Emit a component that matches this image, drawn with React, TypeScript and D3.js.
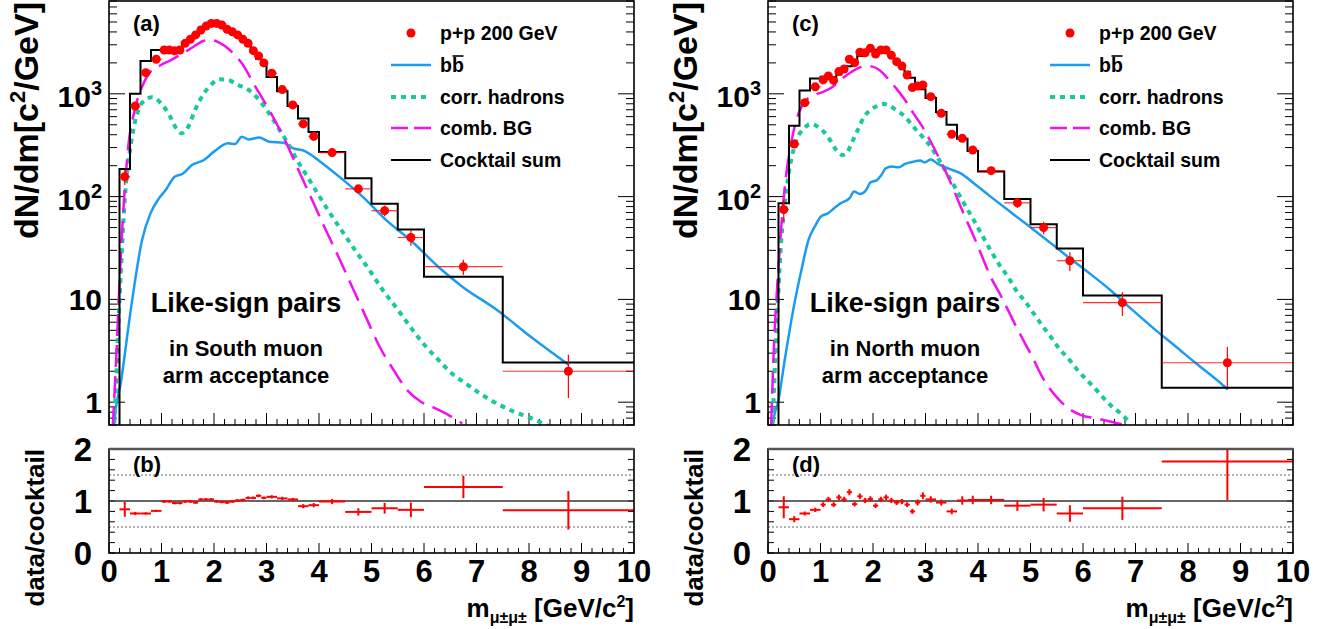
import React from "react";
import * as d3 from "d3";

const FONT = "'Liberation Sans', Arial, Helvetica, sans-serif";

// bin edges (GeV/c^2)
const binEdges = [0.2, 0.4, 0.6, 0.8, 1.0, 1.1, 1.2, 1.3, 1.4, 1.5, 1.6, 1.7, 1.8, 1.9, 2.0, 2.1, 2.2, 2.3, 2.4, 2.5, 2.6, 2.7, 2.8, 2.9, 3.0, 3.2, 3.4, 3.6, 3.8, 4.0, 4.5, 5.0, 5.5, 6.0, 7.5, 10.0];

// South (a)/(b)
const southCocktail = [186, 1000, 2090, 2670, 2700, 2700, 2720, 2760, 3140, 3440, 3860, 4150, 4500, 4780, 4870, 4700, 4350, 4040, 3710, 3330, 2950, 2560, 2200, 1920, 1460, 1060, 760, 575, 425, 272, 151, 85, 48, 16.6, 2.44];
const southData = [156, 762, 1606, 2170, 2670, 2670, 2620, 2670, 3100, 3390, 3740, 4180, 4560, 4840, 4840, 4670, 4240, 4010, 3740, 3390, 3100, 2630, 2340, 2000, 1590, 1100, 780, 510, 385, 268, 119, 73, 40, 20.8, 2.0];
const southRatio = [0.84, 0.76, 0.76, 0.81, 0.99, 0.99, 0.96, 0.96, 0.99, 0.99, 0.97, 1.03, 1.03, 1.03, 0.99, 0.98, 0.97, 0.99, 1.01, 1.02, 1.06, 1.06, 1.10, 1.06, 1.08, 1.05, 1.03, 0.90, 0.92, 0.99, 0.79, 0.86, 0.83, 1.27, 0.82];
const southRelErr = [0.17, 0.04, 0.03, 0.025, 0.025, 0.025, 0.025, 0.025, 0.025, 0.025, 0.025, 0.025, 0.025, 0.025, 0.025, 0.025, 0.025, 0.025, 0.025, 0.025, 0.025, 0.025, 0.025, 0.025, 0.03, 0.03, 0.03, 0.045, 0.045, 0.05, 0.09, 0.12, 0.17, 0.17, 0.45];

const southBbM = [0.08, 0.10, 0.23, 0.43, 0.63, 0.79, 0.95, 1.08, 1.25, 1.41, 1.58, 1.81, 2.00, 2.27, 2.40, 2.53, 2.66, 2.86, 3.05, 3.32, 3.51, 3.71, 3.97, 4.23, 4.50, 4.83, 5.28, 5.74, 6.27, 6.73, 7.39, 8.04, 8.76];
const southBbV = [0.4, 0.62, 1.6, 9, 37.8, 68.7, 96, 116, 156, 168, 203, 227, 274, 330, 325, 383, 360, 375, 342, 335, 295, 280, 230, 181, 140, 100, 59, 37.8, 20.8, 13.3, 7.9, 4.3, 2.3];
const southCorrM = [0.08, 0.10, 0.20, 0.30, 0.43, 0.56, 0.69, 0.82, 0.99, 1.15, 1.28, 1.38, 1.51, 1.64, 1.81, 1.94, 2.10, 2.27, 2.46, 2.66, 2.86, 3.05, 3.25, 3.41, 3.58, 3.78, 3.97, 4.17, 4.43, 4.69, 4.96, 5.22, 5.48, 5.74, 6.01, 6.27, 6.53, 6.79, 7.06, 7.39, 7.71, 8.04, 8.30, 8.50];
const southCorrV = [0.4, 0.62, 9.9, 93, 356, 697, 871, 925, 809, 622, 462, 413, 479, 697, 1012, 1220, 1385, 1360, 1220, 1090, 871, 646, 445, 330, 227, 156, 108, 74, 47, 30, 19.3, 12.2, 8.2, 5.4, 3.6, 2.6, 1.9, 1.53, 1.22, 0.97, 0.81, 0.70, 0.61, 0.55];
const southCombM = [0.07, 0.13, 0.23, 0.36, 0.49, 0.63, 0.79, 0.99, 1.18, 1.41, 1.61, 1.81, 1.94, 2.10, 2.30, 2.53, 2.79, 3.05, 3.32, 3.58, 3.84, 4.10, 4.37, 4.63, 4.89, 5.15, 5.42, 5.68, 5.94, 6.20, 6.47, 6.73];
const southCombV = [0.55, 2.2, 30, 284, 697, 1170, 1645, 1907, 2130, 2480, 2870, 3290, 3340, 3150, 2670, 1980, 1170, 697, 383, 196, 100, 51, 26, 13.3, 6.8, 3.5, 2.06, 1.31, 1.01, 0.88, 0.75, 0.62];

// North (c)/(d)
const northCocktail = [86, 490, 1078, 1412, 1470, 1450, 1460, 1540, 1690, 1860, 2120, 2330, 2490, 2660, 2680, 2600, 2500, 2350, 2120, 1885, 1640, 1430, 1230, 1110, 910, 666, 500, 365, 278, 176, 95, 54, 31.3, 10.9, 1.38];
const northData = [75, 325, 820, 1170, 1365, 1490, 1350, 1645, 1745, 2170, 2010, 2535, 2510, 2775, 2440, 2670, 2670, 2370, 2055, 1866, 1525, 1150, 1190, 1220, 938, 646, 404, 369, 284, 179, 87, 50, 23.8, 9.3, 2.42];
const northRatio = [0.88, 0.65, 0.76, 0.83, 0.93, 1.03, 0.93, 1.07, 1.03, 1.17, 0.94, 1.09, 1.01, 1.04, 0.91, 1.03, 1.07, 1.01, 0.97, 0.99, 0.93, 0.80, 0.97, 1.10, 1.03, 0.97, 0.80, 1.01, 1.02, 1.02, 0.91, 0.93, 0.76, 0.86, 1.76];
const northRelErr = [0.24, 0.09, 0.05, 0.05, 0.05, 0.05, 0.05, 0.05, 0.05, 0.05, 0.05, 0.05, 0.05, 0.05, 0.05, 0.05, 0.05, 0.05, 0.05, 0.05, 0.05, 0.06, 0.06, 0.06, 0.06, 0.06, 0.07, 0.08, 0.08, 0.08, 0.11, 0.14, 0.21, 0.26, 0.42];

const northBbM = [0.06, 0.09, 0.20, 0.32, 0.48, 0.65, 0.77, 0.89, 1.01, 1.14, 1.26, 1.38, 1.55, 1.64, 1.75, 1.87, 1.95, 2.08, 2.16, 2.24, 2.36, 2.49, 2.61, 2.77, 2.90, 2.98, 3.10, 3.22, 3.43, 3.67, 3.92, 4.24, 4.57, 4.90, 5.31, 5.71, 6.12, 6.53, 6.94, 7.35, 7.76, 8.17, 8.58, 8.76];
const northBbV = [0.4, 0.6, 1.05, 2.6, 7.9, 20.8, 37.8, 51, 64, 68.7, 77, 86, 96, 112, 106, 116, 137, 145, 162, 188, 196, 193, 208, 219, 224, 215, 230, 211, 188, 168, 135, 100, 74, 55, 37.8, 26, 18, 12.2, 7.9, 5.2, 3.5, 2.35, 1.6, 1.33];
const northCorrM = [0.08, 0.09, 0.16, 0.24, 0.36, 0.52, 0.69, 0.81, 0.93, 1.06, 1.18, 1.30, 1.42, 1.50, 1.59, 1.71, 1.83, 1.95, 2.08, 2.20, 2.32, 2.44, 2.61, 2.77, 2.94, 3.10, 3.26, 3.43, 3.59, 3.75, 3.92, 4.08, 4.24, 4.41, 4.57, 4.73, 4.90, 5.06, 5.22, 5.39, 5.55, 5.71, 5.88, 6.04, 6.20, 6.37, 6.53, 6.70, 6.90];
const northCorrV = [0.4, 0.6, 4.7, 30, 125, 330, 462, 508, 485, 428, 356, 284, 254, 264, 330, 445, 598, 697, 762, 797, 762, 697, 598, 479, 383, 306, 227, 162, 116, 83, 59, 42, 30, 21.6, 16.6, 12.2, 9.5, 7.3, 5.6, 4.3, 3.3, 2.7, 2.1, 1.71, 1.41, 1.13, 0.93, 0.79, 0.63];
const northCombM = [0.06, 0.11, 0.20, 0.32, 0.44, 0.56, 0.73, 0.89, 1.06, 1.22, 1.38, 1.55, 1.71, 1.87, 1.99, 2.12, 2.28, 2.44, 2.61, 2.77, 2.94, 3.10, 3.26, 3.43, 3.59, 3.75, 3.92, 4.08, 4.24, 4.41, 4.57, 4.73, 4.90, 5.06, 5.22, 5.39, 5.55, 5.71, 5.96, 6.29, 6.74];
const northCombV = [0.6, 3.2, 20.8, 125, 330, 598, 871, 975, 1050, 1160, 1365, 1585, 1770, 1866, 1840, 1705, 1416, 1132, 871, 646, 479, 342, 236, 156, 100, 64, 41, 26, 16.6, 11.5, 7.9, 5.4, 3.7, 2.6, 1.77, 1.31, 1.05, 0.88, 0.75, 0.69, 0.61];

const legendLabels = ["p+p 200 GeV", "bb", "corr. hadrons", "comb. BG", "Cocktail sum"];

const BLUE = "#1a9cf2";
const GREEN = "#17c99c";
const MAGENTA = "#f010f0";
const RED = "#ff0000";

const TOP_Y0 = 1, TOP_Y1 = 425, R_Y0 = 449, R_Y1 = 553, PW = 525;

function Panel(props: any) {
  const { L, cocktail, data, ratio, relErr, bb, corr, comb, tagTop, tagBot, line1, line2, id } = props;
  const x = d3.scaleLinear().domain([0, 10]).range([L, L + PW]);
  const y = d3.scaleLog().domain([0.6, 8000]).range([TOP_Y1, TOP_Y0]);
  const yr = d3.scaleLinear().domain([0, 2]).range([R_Y1, R_Y0]);

  const centers = binEdges.slice(0, -1).map((e, i) => (e + binEdges[i + 1]) / 2);

  const histPts: [number, number][] = [[binEdges[0], 0.3]];
  cocktail.forEach((v: number, i: number) => histPts.push([binEdges[i], v]));
  histPts.push([binEdges[binEdges.length - 1], cocktail[cocktail.length - 1]]);
  const histPath = d3.line<[number, number]>().x(d => x(d[0])).y(d => y(d[1])).curve(d3.curveStepAfter)(histPts) || "";

  const curve = (ms: number[], vs: number[]) =>
    d3.line<number>().x((_, i) => x(ms[i])).y((v) => y(v)).curve(d3.curveMonotoneX)(vs) || "";

  const yTicks = y.ticks();
  const isMajor = (t: number) => Math.abs(Math.log10(t) - Math.round(Math.log10(t))) < 1e-9;
  const xMinor = x.ticks(50);
  const xMajor = x.ticks(10);
  const rTicks = yr.ticks(10);

  const topLabels = [1, 10, 100, 1000];
  const legRows = [33, 65, 97, 128, 160];
  const legX0 = L + 282, legX1 = L + 322, legT = L + 331;

  const clipTop = `clipTop${id}`, clipBot = `clipBot${id}`;

  return (
    <g fontFamily={FONT} fontWeight="bold">
      <defs>
        <clipPath id={clipTop}><rect x={L} y={TOP_Y0} width={PW} height={TOP_Y1 - TOP_Y0} /></clipPath>
        <clipPath id={clipBot}><rect x={L} y={R_Y0} width={PW} height={R_Y1 - R_Y0} /></clipPath>
      </defs>

      {/* ---------- top panel ---------- */}
      {yTicks.map((t, i) => {
        const len = isMajor(t) ? 16 : 8;
        return (
          <g key={"yt" + i} stroke="#000" strokeWidth={1}>
            <line x1={L} x2={L + len} y1={y(t)} y2={y(t)} />
            <line x1={L + PW} x2={L + PW - len} y1={y(t)} y2={y(t)} />
          </g>
        );
      })}
      {xMinor.map((t, i) => {
        const major = Math.abs(t - Math.round(t)) < 1e-9;
        const len = major ? 12 : 6;
        return <line key={"xt" + i} x1={x(t)} x2={x(t)} y1={TOP_Y1} y2={TOP_Y1 - len} stroke="#000" strokeWidth={1} />;
      })}

      <g clipPath={`url(#${clipTop})`} fill="none">
        <path d={curve(bb[0], bb[1])} stroke={BLUE} strokeWidth={2.5} />
        <path d={curve(corr[0], corr[1])} stroke={GREEN} strokeWidth={4} strokeDasharray="5,5" />
        <path d={curve(comb[0], comb[1])} stroke={MAGENTA} strokeWidth={2.5} strokeDasharray="22,9" />
        <path d={histPath} stroke="#000" strokeWidth={2} />
        {centers.map((c, i) => {
          const lo = data[i] * (1 - relErr[i]), hi = data[i] * (1 + relErr[i]);
          return (
            <g key={"d" + i} stroke={RED} strokeWidth={1.2}>
              <line x1={x(binEdges[i])} x2={x(binEdges[i + 1])} y1={y(data[i])} y2={y(data[i])} strokeOpacity={0.8} />
              <line x1={x(c)} x2={x(c)} y1={y(lo)} y2={y(hi)} />
            </g>
          );
        })}
        {centers.map((c, i) => <circle key={"m" + i} cx={x(c)} cy={y(data[i])} r={4.5} fill={RED} />)}
      </g>

      <rect x={L} y={TOP_Y0} width={PW} height={TOP_Y1 - TOP_Y0} fill="none" stroke="#000" strokeWidth={1.6} />

      {topLabels.map((t) => {
        const yy = y(t);
        if (t < 100) {
          return <text key={"tl" + t} x={L - 7} y={yy + 11} fontSize={30} textAnchor="end">{String(t)}</text>;
        }
        const p = Math.round(Math.log10(t));
        return (
          <text key={"tl" + t} x={L - 7} y={yy + 13} fontSize={30} textAnchor="end">
            10<tspan fontSize={20} dy={-12}>{String(p)}</tspan>
          </text>
        );
      })}

      <text transform={`translate(${L - 71},2) rotate(-90)`} fontSize={34} textAnchor="end">
        dN/dm[c<tspan fontSize={22} dy={-13}>2</tspan><tspan dy={13}>/GeV]</tspan>
      </text>

      <text x={L + 24} y={31} fontSize={22}>{tagTop}</text>

      {/* legend */}
      <circle cx={(legX0 + legX1) / 2} cy={legRows[0]} r={4.5} fill={RED} />
      <line x1={legX0} x2={legX1} y1={legRows[1]} y2={legRows[1]} stroke={BLUE} strokeWidth={2.5} />
      <line x1={legX0} x2={legX1} y1={legRows[2]} y2={legRows[2]} stroke={GREEN} strokeWidth={4} strokeDasharray="5,5" />
      <line x1={legX0} x2={legX1} y1={legRows[3]} y2={legRows[3]} stroke={MAGENTA} strokeWidth={2.5} strokeDasharray="17,6" />
      <line x1={legX0} x2={legX1} y1={legRows[4]} y2={legRows[4]} stroke="#000" strokeWidth={2} />
      {legendLabels.map((s, i) => (
        <text key={"lg" + i} x={legT} y={legRows[i] + 7} fontSize={19.5}>{s}</text>
      ))}
      <line x1={legT + 12.5} x2={legT + 23.5} y1={legRows[1] - 9} y2={legRows[1] - 9} stroke="#000" strokeWidth={1.6} />

      <text x={L + 137} y={312} fontSize={27} textAnchor="middle">Like-sign pairs</text>
      <text x={L + 137} y={356} fontSize={22} textAnchor="middle">{line1}</text>
      <text x={L + 137} y={383} fontSize={22} textAnchor="middle">{line2}</text>

      {/* ---------- ratio panel ---------- */}
      {rTicks.map((t, i) => (
        <g key={"rt" + i} stroke="#000" strokeWidth={1}>
          <line x1={L} x2={L + 6} y1={yr(t)} y2={yr(t)} />
          <line x1={L + PW} x2={L + PW - 6} y1={yr(t)} y2={yr(t)} />
        </g>
      ))}
      {xMinor.map((t, i) => {
        const major = Math.abs(t - Math.round(t)) < 1e-9;
        const len = major ? 10 : 5;
        return <line key={"rxt" + i} x1={x(t)} x2={x(t)} y1={R_Y1} y2={R_Y1 - len} stroke="#000" strokeWidth={1} />;
      })}
      <line x1={L} x2={L + PW} y1={yr(1)} y2={yr(1)} stroke="#333" strokeWidth={1.5} />
      <line x1={L} x2={L + PW} y1={yr(1.5)} y2={yr(1.5)} stroke="#666" strokeWidth={1.2} strokeDasharray="2,2" />
      <line x1={L} x2={L + PW} y1={yr(0.5)} y2={yr(0.5)} stroke="#666" strokeWidth={1.2} strokeDasharray="2,2" />
      <g clipPath={`url(#${clipBot})`}>
        {centers.map((c, i) => {
          const e = ratio[i] * relErr[i];
          return (
            <g key={"r" + i} stroke={RED} strokeWidth={2}>
              <line x1={x(binEdges[i])} x2={x(binEdges[i + 1])} y1={yr(ratio[i])} y2={yr(ratio[i])} />
              <line x1={x(c)} x2={x(c)} y1={yr(ratio[i] - e)} y2={yr(ratio[i] + e)} />
            </g>
          );
        })}
      </g>
      <rect x={L} y={R_Y0} width={PW} height={R_Y1 - R_Y0} fill="none" stroke="#000" strokeWidth={1.6} />
      <line x1={L} x2={L + PW} y1={R_Y0} y2={R_Y0} stroke="#555" strokeWidth={2.5} />

      {[0, 1, 2].map((t) => (
        <text key={"rl" + t} x={L - 17} y={yr(t) + 12} fontSize={33} textAnchor="end">{String(t)}</text>
      ))}
      {xMajor.map((t) => (
        <text key={"xl" + t} x={x(t)} y={582} fontSize={31} textAnchor="middle">{String(t)}</text>
      ))}
      <text transform={`translate(${L - 65},${R_Y0}) rotate(-90)`} fontSize={26} textAnchor="end">data/cocktail</text>
      <text x={L + 24} y={472} fontSize={22}>{tagBot}</text>

      <text x={L + PW} y={617} fontSize={26} textAnchor="end">
        m<tspan fontSize={16} dy={6}>μ±μ±</tspan><tspan dy={-6}> [GeV/c</tspan><tspan fontSize={16} dy={-10}>2</tspan><tspan dy={10}>]</tspan>
      </text>
    </g>
  );
}

export default function App() {
  return (
    <svg width={1333} height={629} style={{ position: "absolute", left: 0, top: 0, background: "#fff" }}>
      <rect x={0} y={0} width={1333} height={629} fill="#fff" />
      <Panel
        id="S" L={109}
        cocktail={southCocktail} data={southData} ratio={southRatio} relErr={southRelErr}
        bb={[southBbM, southBbV]} corr={[southCorrM, southCorrV]} comb={[southCombM, southCombV]}
        tagTop="(a)" tagBot="(b)" line1="in South muon" line2="arm acceptance"
      />
      <Panel
        id="N" L={768}
        cocktail={northCocktail} data={northData} ratio={northRatio} relErr={northRelErr}
        bb={[northBbM, northBbV]} corr={[northCorrM, northCorrV]} comb={[northCombM, northCombV]}
        tagTop="(c)" tagBot="(d)" line1="in North muon" line2="arm acceptance"
      />
    </svg>
  );
}
